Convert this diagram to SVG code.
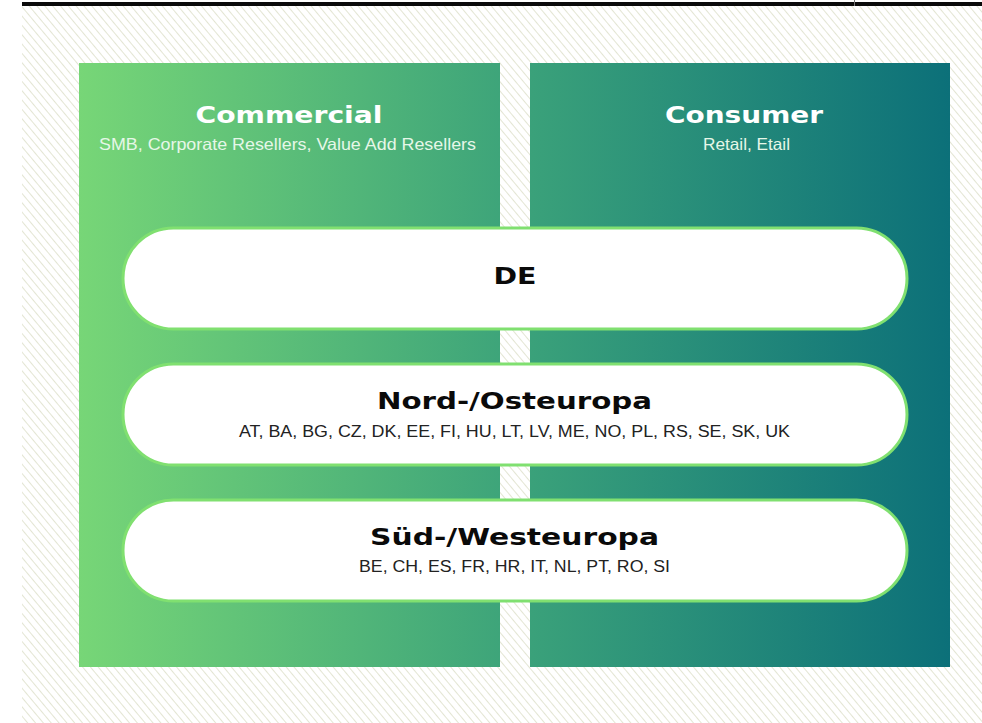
<svg xmlns="http://www.w3.org/2000/svg" width="982" height="723" viewBox="0 0 982 723">
  <defs>
    <pattern id="hatch" patternUnits="userSpaceOnUse" width="6" height="6" patternTransform="rotate(-40)">
      <rect width="6" height="6" fill="#ffffff"/>
      <line x1="0" y1="0" x2="0" y2="6" stroke="#e3e5d3" stroke-width="2"/>
    </pattern>
    <linearGradient id="colGrad" gradientUnits="userSpaceOnUse" x1="79" y1="0" x2="950" y2="0">
      <stop offset="0" stop-color="#77d677"/>
      <stop offset="0.5" stop-color="#3ca37a"/>
      <stop offset="1" stop-color="#0c7079"/>
    </linearGradient>
    <style>
      .title { font-family: "DejaVu Sans", "Liberation Sans", sans-serif; font-weight: bold; font-size: 23px; fill: #ffffff; text-anchor: middle; }
      .sub { font-family: "Liberation Sans", Arial, sans-serif; font-size: 16.5px; fill: #e6f7e8; text-anchor: middle; }
      .pill { fill: #ffffff; stroke: #80e070; stroke-width: 3; }
      .ptitle { font-family: "DejaVu Sans", "Liberation Sans", sans-serif; font-weight: bold; font-size: 23px; fill: #0a0a0a; text-anchor: middle; }
      .plist { font-family: "Liberation Sans", Arial, sans-serif; font-size: 16px; fill: #222222; text-anchor: middle; }
    </style>
  </defs>

  <rect x="0" y="0" width="982" height="723" fill="#ffffff"/>
  <rect x="22" y="6" width="960" height="717" fill="url(#hatch)"/>
  <rect x="22" y="2" width="960" height="4" fill="#0a0a0a"/>
  <line x1="854.5" y1="0" x2="854.5" y2="6" stroke="#777777" stroke-width="1"/>

  <g id="commercial">
    <rect x="79" y="63" width="421" height="604" fill="url(#colGrad)"/>
    <text class="title" x="289" y="123" textLength="187" lengthAdjust="spacingAndGlyphs">Commercial</text>
    <text class="sub" x="287.5" y="150" textLength="377" lengthAdjust="spacingAndGlyphs">SMB, Corporate Resellers, Value Add Resellers</text>
  </g>

  <g id="consumer">
    <rect x="530" y="63" width="420" height="604" fill="url(#colGrad)"/>
    <text class="title" x="744" y="123" textLength="158" lengthAdjust="spacingAndGlyphs">Consumer</text>
    <text class="sub" x="746.5" y="150" textLength="87" lengthAdjust="spacingAndGlyphs">Retail, Etail</text>
  </g>

  <g id="de">
    <rect class="pill" x="123" y="228" width="784" height="101" rx="50.5" ry="50.5"/>
    <text class="ptitle" x="515" y="284" textLength="43" lengthAdjust="spacingAndGlyphs">DE</text>
  </g>

  <g id="nord-osteuropa">
    <rect class="pill" x="123" y="364" width="784" height="101" rx="50.5" ry="50.5"/>
    <text class="ptitle" x="514.5" y="409" textLength="275" lengthAdjust="spacingAndGlyphs">Nord-/Osteuropa</text>
    <text class="plist" x="514.5" y="437" textLength="551" lengthAdjust="spacingAndGlyphs">AT, BA, BG, CZ, DK, EE, FI, HU, LT, LV, ME, NO, PL, RS, SE, SK, UK</text>
  </g>

  <g id="sued-westeuropa">
    <rect class="pill" x="123" y="500" width="784" height="101" rx="50.5" ry="50.5"/>
    <text class="ptitle" x="514.5" y="545" textLength="289" lengthAdjust="spacingAndGlyphs">Süd-/Westeuropa</text>
    <text class="plist" x="514.5" y="572" textLength="311" lengthAdjust="spacingAndGlyphs">BE, CH, ES, FR, HR, IT, NL, PT, RO, SI</text>
  </g>

  <g id="connectors"></g>
</svg>
